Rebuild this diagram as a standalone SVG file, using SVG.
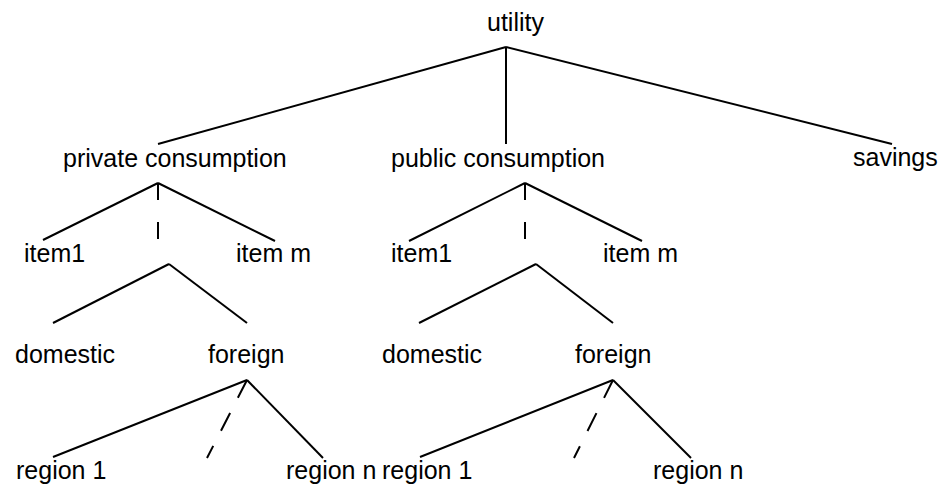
<svg xmlns="http://www.w3.org/2000/svg" width="946" height="493" viewBox="0 0 946 493">
<style>
text{font-family:"Liberation Sans",Arial,sans-serif;font-size:25px;fill:#000}
line{stroke:#000;stroke-width:2;fill:none}
.d1{stroke-dasharray:17 22}
.d2{stroke-dasharray:20 17}
</style>
<rect width="946" height="493" fill="#fff"/>
<g id="connectors">
<line x1="506" y1="47" x2="158" y2="144"/>
<line x1="506" y1="47" x2="506" y2="144"/>
<line x1="506" y1="47" x2="892" y2="144"/>
<line x1="158" y1="183" x2="43" y2="240"/>
<line x1="158" y1="183" x2="275" y2="241"/>
<line class="d1" x1="158" y1="183" x2="158" y2="240"/>
<line x1="169" y1="264" x2="53" y2="323"/>
<line x1="169" y1="264" x2="247" y2="323"/>
<line x1="247" y1="380" x2="53" y2="457"/>
<line x1="247" y1="380" x2="323" y2="458"/>
<line class="d2" x1="247" y1="380" x2="207" y2="458"/>
<line x1="525" y1="183" x2="409" y2="241"/>
<line x1="525" y1="183" x2="642" y2="241"/>
<line class="d1" x1="525" y1="183" x2="525" y2="240"/>
<line x1="536" y1="264" x2="419" y2="323"/>
<line x1="536" y1="264" x2="613" y2="323"/>
<line x1="613" y1="380" x2="420" y2="457"/>
<line x1="613" y1="380" x2="691" y2="458"/>
<line class="d2" x1="613" y1="380" x2="574" y2="458"/>
</g>
<g id="utility"><text x="487" y="31">utility</text></g>
<g id="private"><text x="63" y="167">private consumption</text></g>
<g id="public"><text x="391" y="167">public consumption</text></g>
<g id="savings"><text x="853" y="166">savings</text></g>
<g id="priv-item1"><text x="24" y="262">item1</text></g>
<g id="priv-itemm"><text x="236" y="262">item m</text></g>
<g id="pub-item1"><text x="391" y="262">item1</text></g>
<g id="pub-itemm"><text x="603" y="262">item m</text></g>
<g id="priv-domestic"><text x="15" y="363">domestic</text></g>
<g id="priv-foreign"><text x="208" y="363">foreign</text></g>
<g id="pub-domestic"><text x="382" y="363">domestic</text></g>
<g id="pub-foreign"><text x="575" y="363">foreign</text></g>
<g id="priv-region1"><text x="16" y="479">region 1</text></g>
<g id="priv-regionn"><text x="286" y="479">region n</text></g>
<g id="pub-region1"><text x="382" y="479">region 1</text></g>
<g id="pub-regionn"><text x="653" y="479">region n</text></g>
</svg>
